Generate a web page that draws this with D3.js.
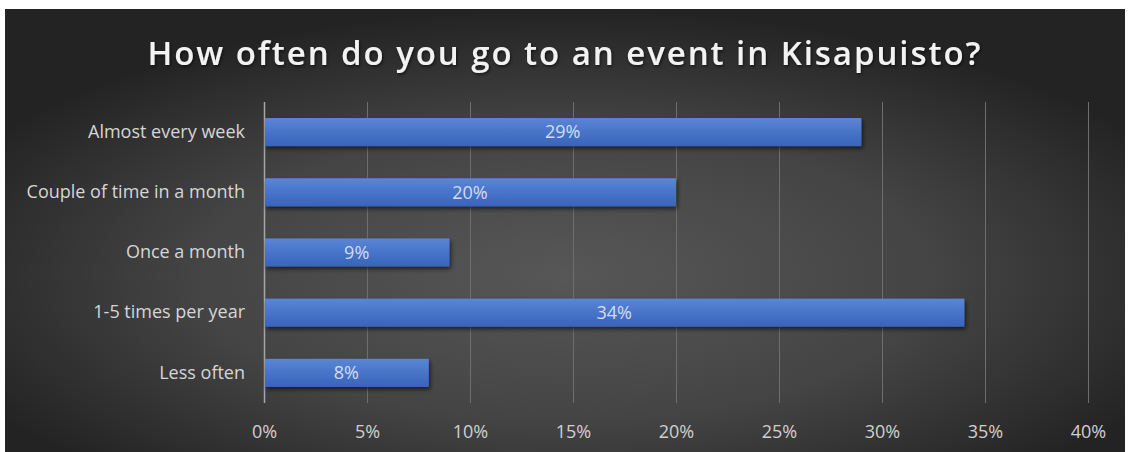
<!DOCTYPE html>
<html>
<head>
<meta charset="utf-8">
<script src="https://cdn.jsdelivr.net/npm/d3@7"></script>
<style>
  html, body { margin: 0; padding: 0; background: #ffffff; }
  svg { display: block; }
</style>
</head>
<body>
<svg id="chart" width="1129" height="452"></svg>
<script>
// Survey answers: how often respondents attend events in Kisapuisto
const categories = [
  "Almost every week",
  "Couple of time in a month",
  "Once a month",
  "1-5 times per year",
  "Less often"
];
const shares = [29, 20, 9, 34, 8];           // percent of respondents
const tickValues = [0, 5, 10, 15, 20, 25, 30, 35, 40];
const titleText = "How often do you go to an event in Kisapuisto?";

const svg = d3.select("#chart");
const panel = { x: 5, y: 9, w: 1120, h: 443 };
const plot = { left: 264, right: 1088, top: 102, bottom: 403 };
const labelFont = "'Open Sans', 'DejaVu Sans', sans-serif";

const defs = svg.append("defs");

// dark radial background
const bg = defs.append("radialGradient")
  .attr("id", "bgGrad")
  .attr("cx", "0.5").attr("cy", "0.6").attr("r", "0.6");
bg.append("stop").attr("offset", "0").attr("stop-color", "#575757");
bg.append("stop").attr("offset", "0.55").attr("stop-color", "#444444");
bg.append("stop").attr("offset", "1").attr("stop-color", "#232323");

// bar fill, lighter on top
const barGrad = defs.append("linearGradient")
  .attr("id", "barGrad").attr("x1", 0).attr("y1", 0).attr("x2", 0).attr("y2", 1);
barGrad.append("stop").attr("offset", "0").attr("stop-color", "#5b86d7");
barGrad.append("stop").attr("offset", "0.5").attr("stop-color", "#4874c8");
barGrad.append("stop").attr("offset", "1").attr("stop-color", "#3864ba");

const barShadow = defs.append("filter").attr("id", "barShadow")
  .attr("x", "-5%").attr("y", "-30%").attr("width", "115%").attr("height", "180%");
barShadow.append("feDropShadow")
  .attr("dx", 1.5).attr("dy", 2.5).attr("stdDeviation", 2)
  .attr("flood-color", "#000").attr("flood-opacity", 0.6);

const titleShadow = defs.append("filter").attr("id", "titleShadow")
  .attr("x", "-5%").attr("y", "-30%").attr("width", "110%").attr("height", "160%");
titleShadow.append("feDropShadow")
  .attr("dx", 1).attr("dy", 1.5).attr("stdDeviation", 1.5)
  .attr("flood-color", "#000").attr("flood-opacity", 0.6);

svg.append("rect")
  .attr("x", panel.x).attr("y", panel.y)
  .attr("width", panel.w).attr("height", panel.h)
  .attr("fill", "url(#bgGrad)");

// scales
const x = d3.scaleLinear().domain([0, 40]).range([plot.left, plot.right]);
const y = d3.scaleBand().domain(categories)
  .range([plot.top, plot.bottom]).paddingInner(0.533).paddingOuter(0.2665);

// size the label font so the longest category fits its column
const probe = svg.append("text").attr("font-family", labelFont)
  .attr("font-size", 16).text("Couple of time in a month");
const probeW = probe.node().getComputedTextLength();
probe.remove();
const labelSize = Math.min(18, 16 * 223 / probeW);

// vertical gridlines
const grid = svg.append("g")
  .attr("transform", `translate(0,${plot.bottom})`)
  .call(d3.axisBottom(x).tickValues(tickValues)
    .tickSize(-(plot.bottom - plot.top)).tickFormat(""));
grid.select(".domain").remove();
grid.selectAll(".tick line")
  .attr("stroke", d => d === 0 ? "#a6a6a6" : "#6e6e6e")
  .attr("stroke-width", d => d === 0 ? 1.5 : 1);

// x tick labels
const xAxis = svg.append("g")
  .attr("transform", `translate(0,${plot.bottom})`)
  .call(d3.axisBottom(x).tickValues(tickValues)
    .tickSize(0).tickPadding(22).tickFormat(d => d + "%"));
xAxis.select(".domain").remove();
xAxis.selectAll("text")
  .attr("font-family", labelFont).attr("font-size", labelSize)
  .attr("fill", "#d0d0d0");

// category labels
const yAxis = svg.append("g")
  .attr("transform", `translate(${plot.left},0)`)
  .call(d3.axisLeft(y).tickSize(0).tickPadding(19));
yAxis.select(".domain").remove();
yAxis.selectAll("text")
  .attr("font-family", labelFont).attr("font-size", labelSize)
  .attr("fill", "#d6d6d6");

// bars
const rows = categories.map((c, i) => ({ category: c, value: shares[i] }));
svg.append("g").selectAll("rect").data(rows).join("rect")
  .attr("x", x(0) + 1)
  .attr("y", d => y(d.category))
  .attr("width", d => x(d.value) - x(0) - 1)
  .attr("height", y.bandwidth())
  .attr("fill", "url(#barGrad)")
  .attr("filter", "url(#barShadow)");

// value labels centred in each bar
svg.append("g").selectAll("text").data(rows).join("text")
  .attr("x", d => (x(0) + x(d.value)) / 2)
  .attr("y", d => y(d.category) + y.bandwidth() / 2)
  .attr("dy", "0.35em")
  .attr("text-anchor", "middle")
  .attr("font-family", labelFont).attr("font-size", labelSize)
  .attr("fill", "#d4dcf0")
  .text(d => d.value + "%");

// title, spread to its measured width
const title = svg.append("text")
  .attr("x", (panel.x + panel.x + panel.w) / 2)
  .attr("y", 65)
  .attr("text-anchor", "middle")
  .attr("font-family", labelFont)
  .attr("font-weight", 600)
  .attr("font-size", 33)
  .attr("fill", "#f2f2f2")
  .attr("filter", "url(#titleShadow)")
  .text(titleText);
const tw = title.node().getComputedTextLength();
if (tw > 833) title.attr("font-size", 33 * 833 / tw);
else title.attr("letter-spacing", ((833 - tw) / (titleText.length - 1)) + "px");
</script>
</body>
</html>
